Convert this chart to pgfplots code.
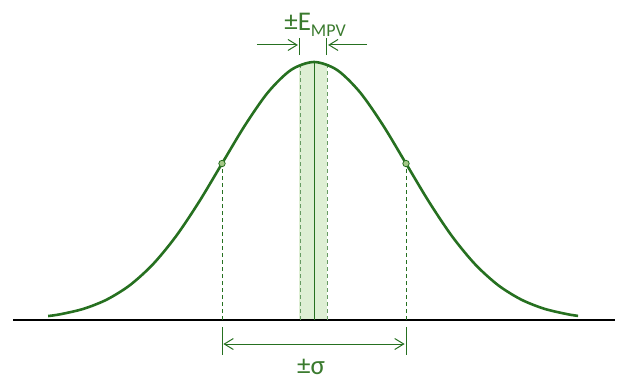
\documentclass[border=0pt]{standalone}
\usepackage{pgfplots}
\pgfplotsset{compat=1.18}
\usepackage{fontspec}
\setmainfont{Carlito}
\usetikzlibrary{arrows.meta}

\definecolor{curvegreen}{RGB}{38,112,32}
\definecolor{textgreen}{RGB}{58,122,46}
\definecolor{bandfill}{RGB}{222,239,212}
\definecolor{markfill}{RGB}{165,200,135}
\definecolor{baseline}{RGB}{70,70,70}

\begin{document}
\begin{tikzpicture}
\begin{axis}[
    scale only axis,
    width=309pt, height=190.5pt,
    xmin=-3.413, xmax=3.304,
    ymin=-0.2364, ymax=1.2403,
    hide axis,
    clip=false,
]

% band around the most probable value
\addplot[fill=bandfill, draw=none] coordinates {
    (-0.163, 0) (-0.163, 0.987) (-0.08, 0.997) (0, 1.0)
    (0.07, 0.998) (0.141, 0.990) (0.141, 0)
} -- cycle;

% baseline
\addplot[baseline, line width=0.75pt] coordinates {(-3.27, 0) (3.27, 0)};

% dashed verticals
\addplot[curvegreen, line width=0.45pt, dash pattern=on 2pt off 1.5pt] coordinates {(-1.0, 0) (-1.0, 0.6065)};
\addplot[curvegreen, line width=0.45pt, dash pattern=on 2pt off 1.5pt] coordinates {(1.0, 0) (1.0, 0.6065)};
\addplot[curvegreen!70, line width=0.45pt, dash pattern=on 2pt off 1.5pt] coordinates {(-0.143, 0) (-0.143, 0.99)};
\addplot[curvegreen!70, line width=0.45pt, dash pattern=on 2pt off 1.5pt] coordinates {(0.141, 0) (0.141, 0.99)};
\addplot[curvegreen, line width=0.4pt] coordinates {(0, 0) (0, 1.0)};

% normal curve
\addplot[curvegreen, line width=1.3pt, smooth] coordinates {
    (-2.89, 0.0153) (-2.75, 0.0228) (-2.5, 0.0439) (-2.25, 0.0796)
    (-2.0, 0.1353) (-1.75, 0.2163) (-1.5, 0.3247) (-1.25, 0.4578)
    (-1.0, 0.6065) (-0.75, 0.7548) (-0.5, 0.8825) (-0.25, 0.9692)
    (0, 1.0)
    (0.25, 0.9692) (0.5, 0.8825) (0.75, 0.7548) (1.0, 0.6065)
    (1.25, 0.4578) (1.5, 0.3247) (1.75, 0.2163) (2.0, 0.1353)
    (2.25, 0.0796) (2.5, 0.0439) (2.75, 0.0228) (2.87, 0.0160)
};

% inflection points
\addplot[only marks, mark=*, mark size=1.6pt, draw=curvegreen, fill=markfill, line width=0.4pt]
    coordinates {(-1.0, 0.6065) (1.0, 0.6065)};

% sigma dimension
\addplot[curvegreen, line width=0.5pt] coordinates {(-1.0, -0.027) (-1.0, -0.136)};
\addplot[curvegreen, line width=0.5pt] coordinates {(1.0, -0.027) (1.0, -0.136)};
\addplot[curvegreen, line width=0.5pt, {Straight Barb[length=4.5pt, width=5.5pt]}-{Straight Barb[length=4.5pt, width=5.5pt]}]
    coordinates {(-0.985, -0.093) (0.985, -0.093)};

% E_MPV dimension
\addplot[curvegreen, line width=0.5pt] coordinates {(-0.163, 1.027) (-0.163, 1.093)};
\addplot[curvegreen, line width=0.5pt] coordinates {(0.141, 1.027) (0.141, 1.093)};
\addplot[curvegreen, line width=0.5pt, -{Straight Barb[length=4.5pt, width=5.5pt]}]
    coordinates {(-0.62, 1.066) (-0.175, 1.066)};
\addplot[curvegreen, line width=0.5pt, -{Straight Barb[length=4.5pt, width=5.5pt]}]
    coordinates {(0.576, 1.066) (0.153, 1.066)};

\node[textgreen, anchor=base, inner sep=0pt] at (axis cs:-0.033, -0.212)
    {\fontsize{13.5}{15}\selectfont ±σ};
\node[textgreen, anchor=base, inner sep=0pt] at (axis cs:0.011, 1.124)
    {\fontsize{13.5}{15}\selectfont ±E\raisebox{-3pt}{\fontsize{9}{10}\selectfont MPV}};

\coordinate (bl) at (axis cs:-3.413, -0.2364);
\coordinate (tr) at (axis cs:3.304, 1.2403);
\end{axis}
\pgfresetboundingbox
\path[use as bounding box] (bl) rectangle (tr);
\end{tikzpicture}
\end{document}
